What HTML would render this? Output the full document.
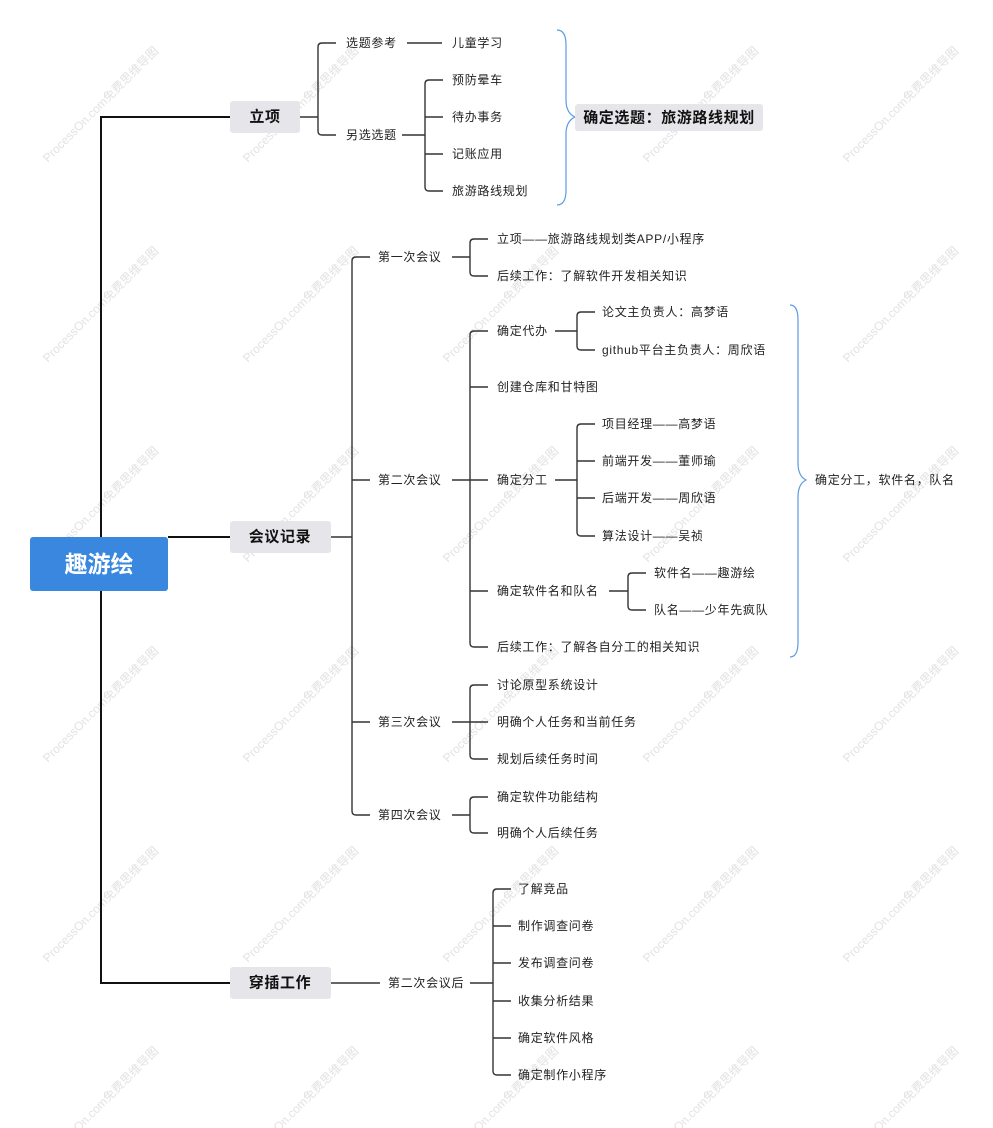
<!DOCTYPE html>
<html><head><meta charset="utf-8">
<style>
html,body{margin:0;padding:0;background:#fff;}
svg{display:block;}
text{font-family:"Liberation Sans","Noto Sans CJK SC",sans-serif;font-size:12px;fill:#222;dominant-baseline:central;letter-spacing:0.7px;}
.b{font-size:15px;font-weight:bold;fill:#111;letter-spacing:0.6px;}
.l{stroke:#333;stroke-width:1.4;fill:none;}
.wm{font-size:12px;fill:#e2e2e2;letter-spacing:0;}
</style></head><body>
<svg width="993" height="1128" viewBox="0 0 993 1128" xmlns="http://www.w3.org/2000/svg">
<g>
<text class="wm" transform="translate(45,160) rotate(-45)">ProcessOn.com免费思维导图</text>
<text class="wm" transform="translate(245,160) rotate(-45)">ProcessOn.com免费思维导图</text>
<text class="wm" transform="translate(645,160) rotate(-45)">ProcessOn.com免费思维导图</text>
<text class="wm" transform="translate(845,160) rotate(-45)">ProcessOn.com免费思维导图</text>
<text class="wm" transform="translate(45,360) rotate(-45)">ProcessOn.com免费思维导图</text>
<text class="wm" transform="translate(245,360) rotate(-45)">ProcessOn.com免费思维导图</text>
<text class="wm" transform="translate(445,360) rotate(-45)">ProcessOn.com免费思维导图</text>
<text class="wm" transform="translate(845,360) rotate(-45)">ProcessOn.com免费思维导图</text>
<text class="wm" transform="translate(45,560) rotate(-45)">ProcessOn.com免费思维导图</text>
<text class="wm" transform="translate(245,560) rotate(-45)">ProcessOn.com免费思维导图</text>
<text class="wm" transform="translate(445,560) rotate(-45)">ProcessOn.com免费思维导图</text>
<text class="wm" transform="translate(645,560) rotate(-45)">ProcessOn.com免费思维导图</text>
<text class="wm" transform="translate(845,560) rotate(-45)">ProcessOn.com免费思维导图</text>
<text class="wm" transform="translate(45,760) rotate(-45)">ProcessOn.com免费思维导图</text>
<text class="wm" transform="translate(245,760) rotate(-45)">ProcessOn.com免费思维导图</text>
<text class="wm" transform="translate(445,760) rotate(-45)">ProcessOn.com免费思维导图</text>
<text class="wm" transform="translate(645,760) rotate(-45)">ProcessOn.com免费思维导图</text>
<text class="wm" transform="translate(845,760) rotate(-45)">ProcessOn.com免费思维导图</text>
<text class="wm" transform="translate(45,960) rotate(-45)">ProcessOn.com免费思维导图</text>
<text class="wm" transform="translate(245,960) rotate(-45)">ProcessOn.com免费思维导图</text>
<text class="wm" transform="translate(445,960) rotate(-45)">ProcessOn.com免费思维导图</text>
<text class="wm" transform="translate(645,960) rotate(-45)">ProcessOn.com免费思维导图</text>
<text class="wm" transform="translate(845,960) rotate(-45)">ProcessOn.com免费思维导图</text>
<text class="wm" transform="translate(45,1160) rotate(-45)">ProcessOn.com免费思维导图</text>
<text class="wm" transform="translate(245,1160) rotate(-45)">ProcessOn.com免费思维导图</text>
<text class="wm" transform="translate(445,1160) rotate(-45)">ProcessOn.com免费思维导图</text>
<text class="wm" transform="translate(645,1160) rotate(-45)">ProcessOn.com免费思维导图</text>
<text class="wm" transform="translate(845,1160) rotate(-45)">ProcessOn.com免费思维导图</text>
</g>

<path d="M230,117 H101 V983 H230" style="stroke:#111;stroke-width:2;fill:none"/>
<path d="M168,537 H230" style="stroke:#111;stroke-width:2;fill:none"/>

<rect x="30" y="537" width="138" height="54" rx="3" fill="#3a87e0"/>
<text x="99" y="564" text-anchor="middle" style="font-size:23px;font-weight:bold;fill:#fff;letter-spacing:0">趣游绘</text>

<rect x="230" y="101" width="70" height="32" rx="3" fill="#e6e6ea"/>
<text class="b" x="265" y="117" text-anchor="middle">立项</text>
<rect x="230" y="521" width="101" height="32" rx="3" fill="#e6e6ea"/>
<text class="b" x="280" y="537" text-anchor="middle">会议记录</text>
<rect x="230" y="967" width="101" height="32" rx="3" fill="#e6e6ea"/>
<text class="b" x="280" y="983" text-anchor="middle">穿插工作</text>

<path class="l" d="M300,117 H318 M336,43 H322 Q318,43 318,47 V131 Q318,135 322,135 H336"/>
<text x="346" y="43">选题参考</text>
<text x="346" y="135">另选选题</text>
<path class="l" d="M407,43 H442"/>
<text x="452" y="43">儿童学习</text>
<path class="l" d="M402,135 H425 M443,80 H429 Q425,80 425,84 V187 Q425,191 429,191 H443 M425,117 H443 M425,154 H443"/>
<text x="452" y="80">预防晕车</text>
<text x="452" y="117">待办事务</text>
<text x="452" y="154">记账应用</text>
<text x="452" y="191">旅游路线规划</text>
<path d="M557,30 Q566,30 566,45 V100 Q566,113 575,117 Q566,121 566,134 V190 Q566,205 557,205" style="stroke:#5a9be6;stroke-width:1.2;fill:none"/>
<rect x="575" y="104" width="188" height="27" rx="3" fill="#e6e6ea"/>
<text class="b" x="669" y="118" text-anchor="middle">确定选题：旅游路线规划</text>

<path class="l" d="M331,537 H352 M370,257 H356 Q352,257 352,261 V811 Q352,815 356,815 H370 M352,480 H370 M352,722 H370"/>
<text x="378" y="257">第一次会议</text>
<text x="378" y="480">第二次会议</text>
<text x="378" y="722">第三次会议</text>
<text x="378" y="815">第四次会议</text>

<path class="l" d="M452,257 H470 M488,239 H474 Q470,239 470,243 V272 Q470,276 474,276 H488"/>
<text x="497" y="239">立项——旅游路线规划类APP/小程序</text>
<text x="497" y="276">后续工作：了解软件开发相关知识</text>

<path class="l" d="M452,480 H470 M488,331 H474 Q470,331 470,335 V643 Q470,647 474,647 H488 M470,387 H488 M470,480 H488 M470,591 H488"/>
<text x="497" y="331">确定代办</text>
<text x="497" y="387">创建仓库和甘特图</text>
<text x="497" y="480">确定分工</text>
<text x="497" y="591">确定软件名和队名</text>
<text x="497" y="647">后续工作：了解各自分工的相关知识</text>

<path class="l" d="M555,331 H577 M595,312 H581 Q577,312 577,316 V346 Q577,350 581,350 H595"/>
<text x="602" y="312">论文主负责人：高梦语</text>
<text x="602" y="350">github平台主负责人：周欣语</text>

<path class="l" d="M555,480 H577 M595,424 H581 Q577,424 577,428 V532 Q577,536 581,536 H595 M577,461 H595 M577,498 H595"/>
<text x="602" y="424">项目经理——高梦语</text>
<text x="602" y="461">前端开发——董师瑜</text>
<text x="602" y="498">后端开发——周欣语</text>
<text x="602" y="536">算法设计——吴祯</text>

<path class="l" d="M609,591 H628 M646,573 H632 Q628,573 628,577 V606 Q628,610 632,610 H646"/>
<text x="654" y="573">软件名——趣游绘</text>
<text x="654" y="610">队名——少年先疯队</text>

<path d="M790,305 Q798,305 798,320 V463 Q798,476 806,480 Q798,484 798,497 V642 Q798,657 790,657" style="stroke:#5a9be6;stroke-width:1.2;fill:none"/>
<text x="815" y="480">确定分工，软件名，队名</text>

<path class="l" d="M452,722 H470 M488,685 H474 Q470,685 470,689 V755 Q470,759 474,759 H488 M470,722 H488"/>
<text x="497" y="685">讨论原型系统设计</text>
<text x="497" y="722">明确个人任务和当前任务</text>
<text x="497" y="759">规划后续任务时间</text>

<path class="l" d="M452,815 H470 M488,797 H474 Q470,797 470,801 V829 Q470,833 474,833 H488"/>
<text x="497" y="797">确定软件功能结构</text>
<text x="497" y="833">明确个人后续任务</text>

<path class="l" d="M331,983 H380"/>
<text x="388" y="983">第二次会议后</text>
<path class="l" d="M470,983 H493 M511,889 H497 Q493,889 493,893 V1071 Q493,1075 497,1075 H511 M493,926 H511 M493,963 H511 M493,1001 H511 M493,1038 H511"/>
<text x="518" y="889">了解竞品</text>
<text x="518" y="926">制作调查问卷</text>
<text x="518" y="963">发布调查问卷</text>
<text x="518" y="1001">收集分析结果</text>
<text x="518" y="1038">确定软件风格</text>
<text x="518" y="1075">确定制作小程序</text>
</svg>
</body></html>
